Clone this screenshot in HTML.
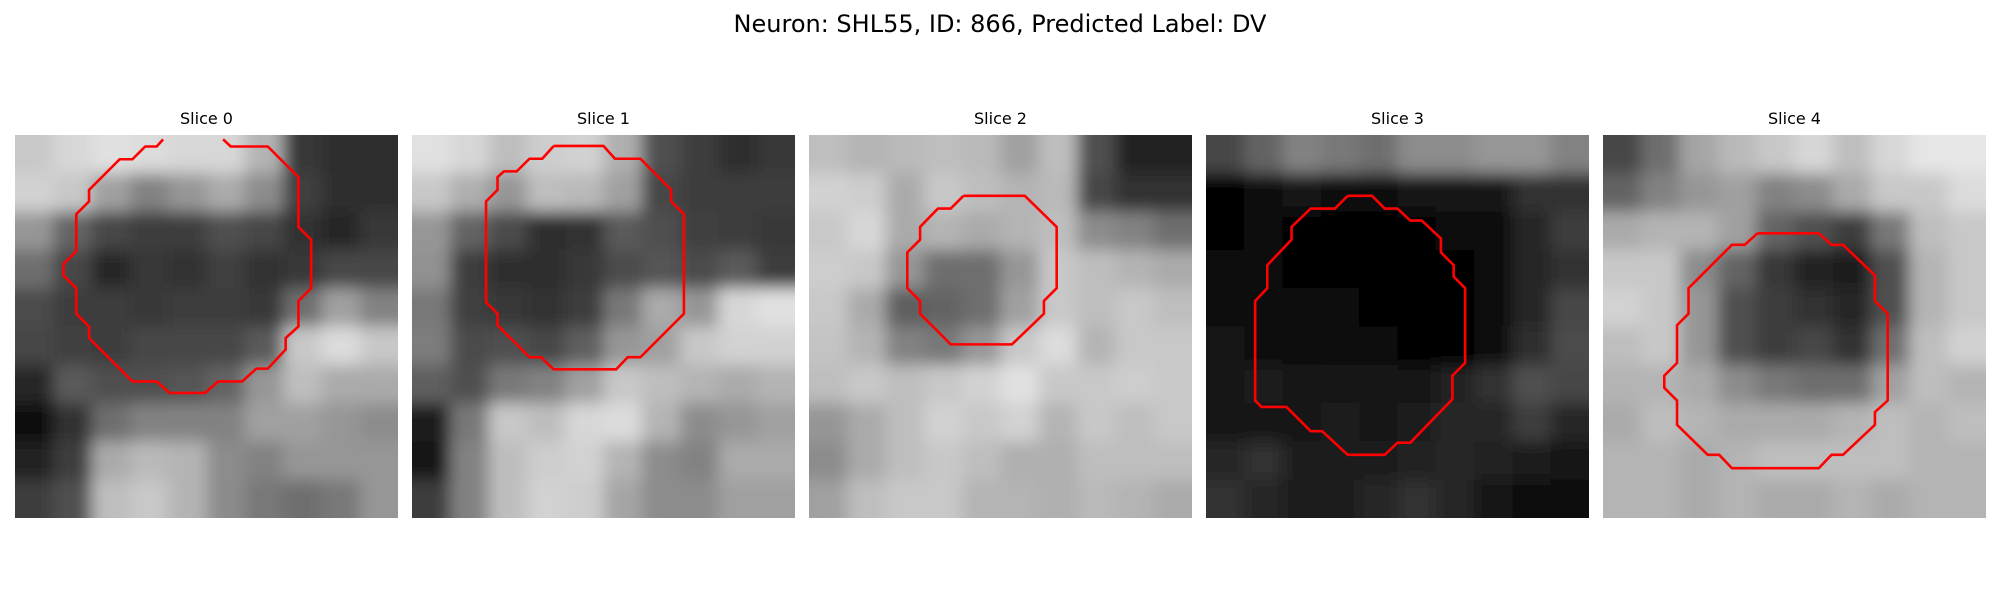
<!DOCTYPE html>
<html><head><meta charset="utf-8"><style>
html,body{margin:0;padding:0;background:#fff;}
svg{display:block;}
text{font-family:"DejaVu Sans","Liberation Sans",sans-serif;fill:#000;}
</style></head><body>
<svg id="fig" width="2000" height="600" viewBox="0 0 2000 600" xmlns="http://www.w3.org/2000/svg">
<defs>
<filter id="soft" x="-0.1" y="-0.1" width="1.2" height="1.2" filterUnits="objectBoundingBox">
<feGaussianBlur stdDeviation="8"/>
</filter>
</defs>
<rect width="2000" height="600" fill="#fff"/>
<text x="1000" y="32" font-size="24" text-anchor="middle">Neuron: SHL55, ID: 866, Predicted Label: DV</text>
</svg>
<script>
// Slice titles
const sliceTitles = ["Slice 0","Slice 1","Slice 2","Slice 3","Slice 4"];
// Coarse grayscale intensities (10x10 blocks, 0-255) per slice
const slice0 = [
[200,215,225,220,215,215,180,55,45,45],
[210,200,160,130,150,170,140,65,45,45],
[150,100,70,60,60,80,70,50,40,55],
[110,70,40,55,50,65,50,55,70,70],
[75,60,60,55,60,60,55,110,160,130],
[70,65,60,70,70,70,90,200,220,200],
[40,90,80,80,85,100,150,190,170,170],
[15,50,110,130,130,130,160,160,150,140],
[35,60,170,185,180,140,130,150,150,150],
[60,80,190,200,180,140,120,110,120,150]];
const slice1 = [
[225,215,190,205,210,175,80,60,45,55],
[200,175,150,190,185,160,70,60,60,60],
[150,100,75,45,50,90,80,65,60,55],
[145,60,45,45,55,75,85,75,90,60],
[120,65,55,50,60,120,170,150,215,225],
[125,75,80,70,95,150,160,200,210,210],
[95,80,120,130,160,200,190,180,170,180],
[30,120,200,190,215,220,180,140,150,160],
[25,130,190,205,210,180,140,130,170,170],
[60,130,190,210,205,165,140,140,160,160]];
const slice2 = [
[190,180,185,190,185,160,190,80,35,35],
[210,205,170,200,190,180,185,70,50,50],
[200,215,170,180,170,180,190,140,130,110],
[205,200,150,110,110,150,200,190,180,170],
[200,170,95,100,110,160,200,190,200,190],
[195,180,130,120,150,200,220,180,200,200],
[190,200,190,200,210,225,200,200,205,200],
[150,170,190,210,200,210,180,200,190,200],
[140,170,190,200,190,175,175,190,190,190],
[160,190,200,200,180,180,175,185,180,170]];
const slice3 = [
[70,100,130,120,110,140,140,150,150,130],
[5,15,20,10,10,20,25,25,50,50],
[5,10,5,5,5,5,10,15,40,60],
[10,10,5,5,5,5,5,10,40,50],
[15,15,15,10,5,5,5,10,40,70],
[20,15,15,10,10,5,5,15,45,75],
[20,30,25,25,20,25,35,50,80,70],
[25,25,20,30,25,30,40,40,60,40],
[40,50,30,30,30,35,40,35,30,20],
[50,40,30,30,40,50,40,20,10,10]];
const slice4 = [
[70,110,165,185,200,215,190,215,230,230],
[100,130,150,160,130,140,170,200,200,220],
[170,180,180,160,100,80,60,120,190,200],
[200,200,140,100,55,35,30,80,180,200],
[210,200,150,80,60,50,40,80,180,200],
[190,200,150,80,60,70,50,110,190,210],
[180,180,170,140,120,110,110,160,190,180],
[170,190,180,170,170,170,180,190,180,190],
[180,180,170,180,190,190,190,190,180,180],
[180,180,170,180,170,170,180,170,180,180]];
// Contours in image (pixel-grid) coordinates, 30x30 image
const contour0X = [11.6,11.1,10.2,9.2,8.2,5.8,5.8,4.8,4.8,3.8,3.8,4.8,4.8,5.8,5.8,9.2,11.1,12.1,14.9,15.9,17.8,18.9,19.8,21.2,21.2,22.2,22.2,23.2,23.2,22.2,22.2,19.8,16.9,16.3];
const contour0Y = [0.34,0.9,0.9,1.9,1.9,4.3,5.2,6.2,9.1,10.1,11.0,12.0,14.0,15.0,15.9,19.3,19.3,20.2,20.2,19.3,19.3,18.3,18.3,16.8,15.9,15.0,13.0,12.0,8.2,7.2,3.3,0.9,0.9,0.34];
const contour1X = [11.1,15.0,15.9,17.9,20.3,20.3,21.3,21.3,17.9,16.9,16.0,11.1,10.1,9.2,6.7,6.7,5.8,5.8,6.7,6.7,7.2,8.2,9.2,10.2,11.1];
const contour1Y = [0.86,0.86,1.86,1.86,4.3,5.2,6.2,14.0,17.4,17.4,18.35,18.35,17.4,17.4,14.9,14.0,13.1,5.2,4.3,3.3,2.85,2.85,1.86,1.86,0.86];
const contour2X = [12.1,16.9,19.4,19.4,18.4,18.4,15.9,11.1,8.7,8.7,7.7,7.7,8.7,8.7,10.1,11.1,12.1];
const contour2Y = [4.76,4.76,7.2,12.0,13.0,14.0,16.4,16.4,14.0,13.0,12.0,9.2,8.2,7.2,5.76,5.76,4.76];
const contour3X = [11.1,13.0,14.0,15.0,16.0,16.9,18.4,18.4,19.4,19.4,20.3,20.3,19.3,19.3,16.0,15.0,14.0,11.1,9.1,8.2,6.3,4.35,3.85,3.85,4.8,4.8,6.7,6.7,8.2,10.1,11.1];
const contour3Y = [4.76,4.76,5.76,5.76,6.7,6.7,8.1,9.2,10.2,11.1,12.0,17.85,18.85,20.7,24.1,24.1,25.05,25.05,23.2,23.2,21.3,21.3,20.8,13.0,12.0,10.2,8.2,7.2,5.76,5.76,4.76];
const contour4X = [12.1,16.9,17.9,18.8,21.3,21.3,22.3,22.3,21.3,21.3,18.8,17.9,16.9,10.1,9.1,8.2,5.8,5.8,4.8,4.8,5.8,5.8,6.7,6.7,10.1,11.1,12.1];
const contour4Y = [7.7,7.7,8.6,8.6,11.0,13.0,14.0,20.8,21.7,22.7,25.05,25.05,26.1,26.1,25.05,25.05,22.7,20.8,19.8,18.85,17.85,14.9,14.0,12.0,8.6,8.6,7.7];

const images = [slice0,slice1,slice2,slice3,slice4];
const contoursX = [contour0X,contour1X,contour2X,contour3X,contour4X];
const contoursY = [contour0Y,contour1Y,contour2Y,contour3Y,contour4Y];

const NS = "http://www.w3.org/2000/svg";
const svg = document.getElementById('fig');
const panelLeft = [15,412,809,1206,1603];
const panelTop = 135, panelSize = 383, gridN = 30;
const cell = panelSize / gridN;
const pad = 40;

for (let p = 0; p < 5; p++) {
  const x0 = panelLeft[p];
  const sx = v => x0 + v * cell;
  const sy = v => panelTop + v * cell;
  const g = document.createElementNS(NS, 'g');
  
  
  svg.appendChild(g);

  const clip = document.createElementNS(NS, 'clipPath');
  clip.setAttribute('id', 'clip' + p);
  const cr = document.createElementNS(NS, 'rect');
  cr.setAttribute('x', x0); cr.setAttribute('y', panelTop);
  cr.setAttribute('width', panelSize); cr.setAttribute('height', panelSize);
  clip.appendChild(cr);
  g.appendChild(clip);

  const clipG = document.createElementNS(NS, 'g');
  clipG.setAttribute('clip-path', `url(#clip${p})`);
  
  
  g.appendChild(clipG);
  const imgG = document.createElementNS(NS, 'g');
  imgG.setAttribute('filter', 'url(#soft)');
  
  
  clipG.appendChild(imgG);

  const img = images[p];
  const nb = img.length, bs = gridN / nb;
  for (let r = 0; r < nb; r++) {
    for (let c = 0; c < img[r].length; c++) {
      const v = img[r][c];
      let x = sx(c * bs), y = sy(r * bs);
      let w = bs * cell + 0.6, h = bs * cell + 0.6;
      if (c === 0) { x -= pad; w += pad; }
      if (c === img[r].length - 1) { w += pad; }
      if (r === 0) { y -= pad; h += pad; }
      if (r === nb - 1) { h += pad; }
      const rect = document.createElementNS(NS, 'rect');
      rect.setAttribute('x', x.toFixed(2));
      rect.setAttribute('y', y.toFixed(2));
      rect.setAttribute('width', w.toFixed(2));
      rect.setAttribute('height', h.toFixed(2));
      rect.setAttribute('fill', `rgb(${v},${v},${v})`);
      
      
      imgG.appendChild(rect);
    }
  }

  const cx = contoursX[p], cy = contoursY[p];
  const pts = cx.map((v, i) => sx(v).toFixed(2) + ',' + sy(cy[i]).toFixed(2)).join(' ');
  const pl = document.createElementNS(NS, 'polyline');
  pl.setAttribute('points', pts);
  pl.setAttribute('fill', 'none');
  pl.setAttribute('stroke', '#ff0000');
  pl.setAttribute('stroke-width', '2.6');
  pl.setAttribute('stroke-linejoin', 'round');
  pl.setAttribute('clip-path', `url(#clip${p})`);
  
  
  g.appendChild(pl);

  const t = document.createElementNS(NS, 'text');
  t.setAttribute('x', x0 + panelSize / 2);
  t.setAttribute('y', 124);
  t.setAttribute('font-size', '16');
  t.setAttribute('text-anchor', 'middle');
  t.textContent = sliceTitles[p];
  
  
  g.appendChild(t);
}
</script>
</body></html>
